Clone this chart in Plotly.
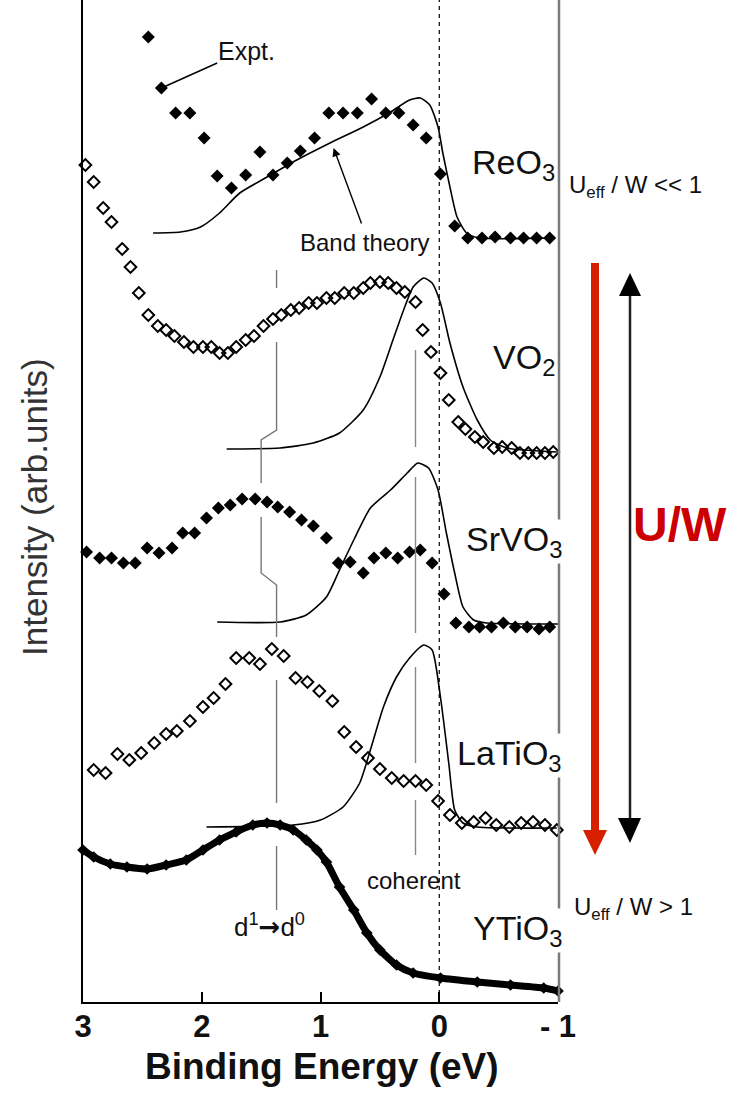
import plotly.graph_objects as go

# ---------------- data (binding energy in eV, intensity in arb. units) ----------------
reo3_expt_e = [2.45, 2.34, 2.22, 2.10, 1.98, 1.87, 1.75, 1.63, 1.51, 1.40, 1.28, 1.17, 1.05,
               0.93, 0.81, 0.69, 0.57, 0.45, 0.34, 0.22, 0.11, -0.01, -0.13, -0.24, -0.36,
               -0.47, -0.60, -0.71, -0.82, -0.93]
reo3_expt_i = [965, 914, 889, 889, 864, 826, 814, 827, 850, 827, 839, 851, 864,
               889, 889, 889, 903, 889, 889, 877, 864, 828, 776, 764, 764,
               765, 764, 764, 764, 764]
reo3_theory_e = [2.41, 2.18, 2.01, 1.85, 1.68, 1.45, 1.20, 0.92, 0.64, 0.41, 0.25, 0.16, 0.08,
                 0.01, -0.03, -0.09, -0.15, -0.23, -0.34, -0.96]
reo3_theory_i = [769, 770, 775, 789, 809, 825, 842, 859, 875, 890, 902, 904, 897,
                 875, 849, 815, 785, 769, 764, 764]

vo2_expt_e = [2.98, 2.91, 2.83, 2.76, 2.67, 2.60, 2.53, 2.45, 2.37, 2.30, 2.23, 2.15, 2.07,
              1.99, 1.92, 1.85, 1.78, 1.71, 1.63, 1.56, 1.48, 1.40, 1.33, 1.25, 1.18, 1.10,
              1.03, 0.95, 0.88, 0.80, 0.72, 0.64, 0.58, 0.50, 0.43, 0.36, 0.29, 0.20, 0.14,
              0.07, -0.01, -0.08, -0.16, -0.22, -0.30, -0.37, -0.46, -0.53, -0.61, -0.68,
              -0.75, -0.82, -0.89, -0.96]
vo2_expt_i = [837, 820, 794, 780, 753, 735, 709, 687, 676, 672, 666, 660, 655,
              655, 655, 649, 649, 655, 662, 666, 676, 683, 687, 692, 694, 699,
              699, 704, 704, 709, 709, 714, 719, 720, 719, 714, 710, 700, 672,
              650, 629, 602, 580, 573, 565, 560, 554, 555, 554, 549,
              549, 549, 549, 550]
vo2_theory_e = [1.79, 1.34, 1.06, 0.84, 0.64, 0.50, 0.39, 0.30, 0.22, 0.13, 0.06, -0.01,
                -0.09, -0.20, -0.32, -0.43, -0.57, -0.99]
vo2_theory_i = [553, 554, 559, 569, 592, 625, 662, 692, 715, 724, 719, 699,
                659, 615, 582, 562, 554, 550]

srvo3_expt_e = [2.97, 2.86, 2.76, 2.66, 2.56, 2.46, 2.36, 2.25, 2.16, 2.06, 1.96, 1.86, 1.76,
                1.66, 1.55, 1.45, 1.36, 1.26, 1.16, 1.06, 0.95, 0.85, 0.75, 0.64, 0.55, 0.45,
                0.35, 0.25, 0.16, 0.06, -0.04, -0.14, -0.25, -0.34, -0.44, -0.54, -0.64,
                -0.74, -0.84, -0.93]
srvo3_expt_i = [450, 444, 444, 439, 439, 454, 449, 454, 469, 469, 484, 494, 497,
                503, 503, 500, 495, 490, 482, 476, 464, 439, 440, 429, 444, 449,
                444, 450, 452, 439, 408, 379, 375, 375, 375, 379, 375,
                375, 373, 375]
srvo3_theory_e = [1.87, 1.34, 1.12, 0.95, 0.84, 0.72, 0.58, 0.41, 0.27, 0.18, 0.09, 0.01,
                  -0.06, -0.13, -0.20, -0.29, -0.40, -1.00]
srvo3_theory_i = [380, 380, 387, 405, 432, 462, 494, 512, 529, 539, 534, 512,
                  469, 429, 395, 382, 379, 378]

latio3_expt_e = [2.91, 2.81, 2.71, 2.61, 2.51, 2.40, 2.30, 2.21, 2.10, 1.99, 1.90, 1.80, 1.71,
                 1.60, 1.51, 1.41, 1.31, 1.21, 1.11, 1.01, 0.90, 0.80, 0.70, 0.60, 0.50, 0.40,
                 0.30, 0.20, 0.11, 0.01, -0.09, -0.19, -0.29, -0.39, -0.48, -0.59, -0.69,
                 -0.79, -0.89, -0.99]
latio3_expt_i = [232, 229, 248, 242, 249, 259, 268, 271, 281, 295, 304, 318, 344,
                 344, 338, 353, 346, 324, 320, 311, 301, 270, 255, 244, 233, 224,
                 221, 221, 217, 201, 187, 179, 180, 184, 177, 175, 179,
                 180, 177, 172]
latio3_theory_e = [1.96, 1.23, 1.00, 0.81, 0.67, 0.58, 0.47, 0.36, 0.25, 0.13, 0.06, -0.01,
                   -0.08, -0.13, -0.20, -0.32, -0.99]
latio3_theory_i = [175, 177, 182, 195, 219, 252, 295, 325, 344, 357, 352, 305,
                   239, 192, 179, 175, 174]

ytio3_expt_e = [3.00, 2.91, 2.77, 2.63, 2.46, 2.30, 2.13, 1.99, 1.85, 1.71, 1.57, 1.45, 1.34,
                1.23, 1.12, 1.03, 0.95, 0.84, 0.72, 0.61, 0.50, 0.36, 0.22, -0.01, -0.32,
                -0.60, -0.88, -1.00]
ytio3_expt_i = [152, 145, 138, 135, 133, 137, 142, 152, 162, 170, 177, 179, 177,
                172, 162, 152, 140, 115, 92, 69, 52, 37, 29, 24, 20,
                17, 14, 11]

x_ticks = [3, 2, 1, 0, -1]
x_tick_labels = ["3", "2", "1", "0", "- 1"]

compounds = ["ReO<sub>3</sub>", "VO<sub>2</sub>", "SrVO<sub>3</sub>", "LaTiO<sub>3</sub>", "YTiO<sub>3</sub>"]
label_levels = [838, 642, 461, 247, 72]
label_right_px = [556, 556, 563, 563, 563]

# ---------------- geometry helpers (decorations only) ----------------
PLOT_L, PLOT_R, PLOT_T, PLOT_B = 83, 558, 0, 1002


def px(xp):
    return (xp - PLOT_L) / (PLOT_R - PLOT_L)


def py(yp):
    return (PLOT_B - yp) / (PLOT_B - PLOT_T)


FONT = "Liberation Sans, Arial, Helvetica, sans-serif"

fig = go.Figure()

filled = dict(symbol="diamond", size=10, color="black")
opened = dict(symbol="diamond-open", size=9, color="black", line=dict(width=2, color="black"))
theory_line = dict(color="black", width=1.6, shape="spline", smoothing=0.6)

fig.add_trace(go.Scatter(x=reo3_theory_e, y=reo3_theory_i, mode="lines", line=theory_line, cliponaxis=False))
fig.add_trace(go.Scatter(x=reo3_expt_e, y=reo3_expt_i, mode="markers", marker=filled, cliponaxis=False))
fig.add_trace(go.Scatter(x=vo2_theory_e, y=vo2_theory_i, mode="lines", line=theory_line, cliponaxis=False))
fig.add_trace(go.Scatter(x=vo2_expt_e, y=vo2_expt_i, mode="markers", marker=opened, cliponaxis=False))
fig.add_trace(go.Scatter(x=srvo3_theory_e, y=srvo3_theory_i, mode="lines", line=theory_line, cliponaxis=False))
fig.add_trace(go.Scatter(x=srvo3_expt_e, y=srvo3_expt_i, mode="markers", marker=filled, cliponaxis=False))
fig.add_trace(go.Scatter(x=latio3_theory_e, y=latio3_theory_i, mode="lines", line=theory_line, cliponaxis=False))
fig.add_trace(go.Scatter(x=latio3_expt_e, y=latio3_expt_i, mode="markers", marker=opened, cliponaxis=False))
fig.add_trace(go.Scatter(x=ytio3_expt_e, y=ytio3_expt_i, mode="lines+markers",
                         line=dict(color="black", width=7, shape="spline", smoothing=0.6),
                         marker=dict(symbol="diamond", size=9, color="black"), cliponaxis=False))

shapes = []
# Fermi level dashed line
shapes.append(dict(type="line", xref="x", yref="y", x0=0, x1=0, y0=0, y1=1002,
                   line=dict(color="black", width=1.2, dash="4px,4px")))
# right frame (grey)
shapes.append(dict(type="line", xref="paper", yref="paper", x0=px(559), x1=px(559), y0=0, y1=1,
                   line=dict(color="#7a7a7a", width=2.5)))
# d1 -> d0 guide line (grey, with kinks)
guide_grey = dict(color="#777777", width=1.4)
d1_segments = [
    [(1.37, 732), (1.37, 714)],
    [(1.37, 660), (1.37, 572), (1.50, 562), (1.50, 519)],
    [(1.50, 485), (1.50, 429), (1.37, 417), (1.37, 365)],
    [(1.37, 322), (1.37, 199)],
    [(1.37, 156), (1.37, 92)],
]
for seg in d1_segments:
    path = "M " + " L ".join(f"{e},{i}" for e, i in seg)
    shapes.append(dict(type="path", xref="x", yref="y", path=path, line=guide_grey))
# coherent guide line
for y0, y1 in [(652, 555), (525, 369), (335, 239), (202, 147)]:
    shapes.append(dict(type="line", xref="x", yref="y", x0=0.20, x1=0.20, y0=y0, y1=y1,
                       line=dict(color="#888888", width=1.4)))
# Expt. leader line
shapes.append(dict(type="line", xref="x", yref="y", x0=1.87, y0=939, x1=2.32, y1=915,
                   line=dict(color="black", width=1.4)))

# red U/W arrow
red = "#D62000"
shapes.append(dict(type="line", xref="paper", yref="paper", x0=px(595), x1=px(595), y0=py(263), y1=py(832),
                   line=dict(color=red, width=8)))
shapes.append(dict(type="path", xref="paper", yref="paper",
                   path=f"M {px(583)},{py(830)} L {px(607)},{py(830)} L {px(595)},{py(855)} Z",
                   fillcolor=red, line=dict(color=red, width=0)))
# black double arrow
shapes.append(dict(type="line", xref="paper", yref="paper", x0=px(630), x1=px(630), y0=py(293), y1=py(820),
                   line=dict(color="#222222", width=2.5)))
shapes.append(dict(type="path", xref="paper", yref="paper",
                   path=f"M {px(619)},{py(296)} L {px(641)},{py(296)} L {px(630)},{py(273)} Z",
                   fillcolor="black", line=dict(color="black", width=0)))
shapes.append(dict(type="path", xref="paper", yref="paper",
                   path=f"M {px(618)},{py(818)} L {px(641)},{py(818)} L {px(630)},{py(843)} Z",
                   fillcolor="black", line=dict(color="black", width=0)))

annotations = []
for name, lvl, rpx in zip(compounds, label_levels, label_right_px):
    annotations.append(dict(x=px(rpx), y=lvl / 1002, xref="paper", yref="paper", text=name, showarrow=False,
                            xanchor="right", yanchor="middle", bgcolor="white", borderpad=0,
                            font=dict(family=FONT, size=34, color="#111111")))

annotations += [
    dict(x=1.62, y=951, xref="x", yref="y", text="Expt.", showarrow=False,
         font=dict(family=FONT, size=25, color="#111111")),
    dict(x=0.63, y=760, xref="x", yref="y", text="Band theory", showarrow=False,
         font=dict(family=FONT, size=24, color="#111111")),
    dict(x=0.89, y=854, xref="x", yref="y", ax=0.65, ay=777, axref="x", ayref="y", text="",
         showarrow=True, arrowhead=2, arrowsize=1.2, arrowwidth=1.4, arrowcolor="black"),
    dict(x=0.21, y=122, xref="x", yref="y", text="coherent", showarrow=False,
         font=dict(family=FONT, size=24, color="#111111")),
    dict(x=1.43, y=77, xref="x", yref="y",
         text="d<sup>1</sup><span style='font-family:DejaVu Sans'><b>\u2192</b></span>d<sup>0</sup>",
         showarrow=False, font=dict(family=FONT, size=26, color="#111111")),
    dict(x=px(567), y=py(186), xref="paper", yref="paper", text="U<sub>eff</sub> / W &lt;&lt; 1",
         showarrow=False, xanchor="left", yanchor="middle", font=dict(family=FONT, size=24, color="#111111")),
    dict(x=px(572), y=py(908), xref="paper", yref="paper", text="U<sub>eff</sub> / W &gt; 1",
         showarrow=False, xanchor="left", yanchor="middle", font=dict(family=FONT, size=24, color="#111111")),
    dict(x=px(680), y=py(524), xref="paper", yref="paper", text="<b>U/W</b>", showarrow=False,
         xanchor="center", yanchor="middle", font=dict(family=FONT, size=48, color="#CC0000")),
    dict(x=px(35), y=py(507), xref="paper", yref="paper", text="Intensity (arb.units)", textangle=-90,
         showarrow=False, xanchor="center", yanchor="middle", font=dict(family=FONT, size=35, color="#333333")),
    dict(x=px(322), y=py(1066), xref="paper", yref="paper", text="<b>Binding Energy (eV)</b>",
         showarrow=False, xanchor="center", yanchor="middle", font=dict(family=FONT, size=37, color="#111111")),
]

fig.update_layout(
    width=733, height=1097,
    margin=dict(l=PLOT_L, r=733 - PLOT_R, t=PLOT_T, b=1097 - PLOT_B, autoexpand=False),
    paper_bgcolor="white", plot_bgcolor="white",
    showlegend=False,
    shapes=shapes, annotations=annotations,
    xaxis=dict(range=[3, -1], tickvals=x_ticks, ticktext=x_tick_labels, ticks="inside", ticklen=10,
               tickwidth=1.5, tickcolor="black", showline=True, linecolor="black", linewidth=2,
               showgrid=False, zeroline=False, automargin=False, ticklabelstandoff=-4,
               tickfont=dict(family=FONT, size=31, color="#111111", weight="bold")),
    yaxis=dict(range=[0, 1002], showline=True, linecolor="black", linewidth=2, showgrid=False,
               zeroline=False, showticklabels=False, ticks="", automargin=False),
)

fig.write_html("out.html", config={"displayModeBar": False},
               post_script="document.body.style.margin='0';document.body.style.overflow='hidden';")
